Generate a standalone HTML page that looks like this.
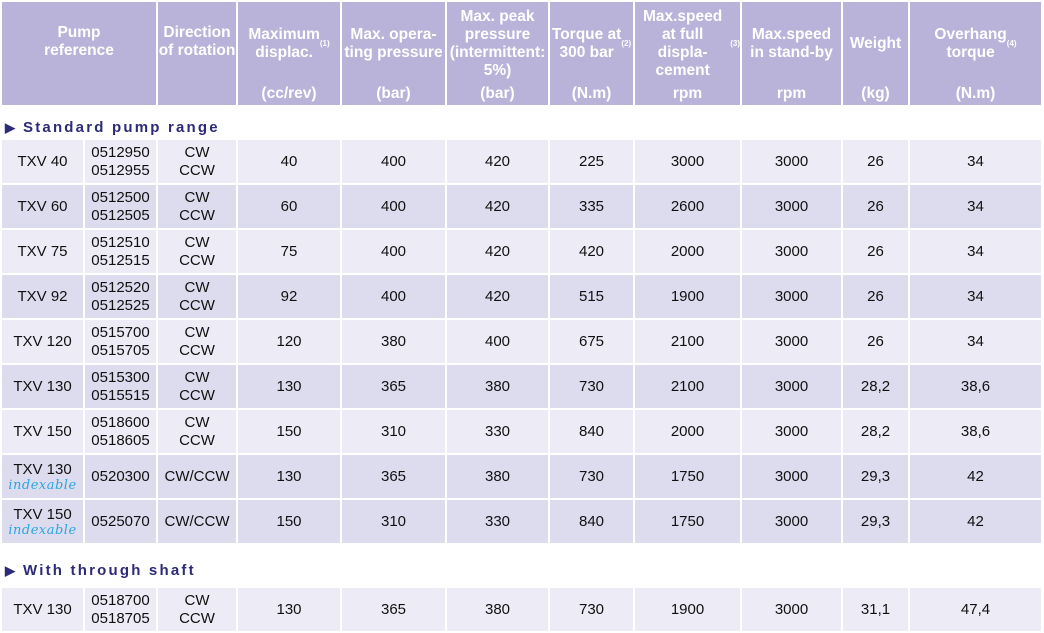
<!DOCTYPE html>
<html><head><meta charset="utf-8">
<style>
body{margin:0;width:1044px;height:633px;background:#fff;position:relative;overflow:hidden;font-family:"Liberation Sans Narrow","Liberation Sans",sans-serif;}
table{position:absolute;left:0;border-collapse:separate;border-spacing:2px;table-layout:fixed;}
td{padding:0;text-align:center;vertical-align:middle;font-size:15px;color:#111;line-height:18px;}
.hd td{background:#b9b3d9;color:#fff;font-weight:bold;height:103px;position:relative;font-size:15.5px;line-height:18px;}
.hd .t{position:absolute;left:0;right:0;top:0;height:84px;display:flex;align-items:center;justify-content:center;}
.hd .u{position:absolute;left:0;right:0;bottom:2px;}
sup{font-size:8px;vertical-align:top;line-height:10px}
tr.l td{background:#ecebf6;}
tr.d td{background:#dddbee;}
.body td{height:43px;}
.body tr.ix td{height:43px;}
.ix2 td{height:43px}
.idx{display:block;font-family:"DejaVu Serif",cursive;font-style:italic;color:#2aa6df;font-size:13px;line-height:14px;letter-spacing:0.5px}
.sec{position:absolute;left:5px;font-family:"Liberation Sans",sans-serif;font-weight:bold;font-size:15px;letter-spacing:2.2px;color:#2e2a7a;}
.sec span{font-size:13px;margin-right:8px;letter-spacing:0}
</style></head><body>
<table class="hd" style="top:0">
<colgroup><col style="width:154px"><col style="width:78px"><col style="width:102px"><col style="width:103px"><col style="width:101px"><col style="width:83px"><col style="width:105px"><col style="width:99px"><col style="width:65px"><col style="width:131px"></colgroup>
<tr>
<td><div class="t" style="height:100px;align-items:flex-start;padding-top:22px;box-sizing:border-box">Pump<br>reference</div></td>
<td><div class="t" style="height:100px;align-items:flex-start;padding-top:22px;box-sizing:border-box">Direction<br>of rotation</div></td>
<td><div class="t">Maximum<br>displac.<sup>(1)</sup></div><div class="u">(cc/rev)</div></td>
<td><div class="t">Max. opera-<br>ting pressure</div><div class="u">(bar)</div></td>
<td><div class="t">Max. peak<br>pressure<br>(intermittent:<br>5%)</div><div class="u">(bar)</div></td>
<td><div class="t">Torque at<br>300 bar<sup>(2)</sup></div><div class="u">(N.m)</div></td>
<td><div class="t">Max.speed<br>at full displa-<br>cement<sup>(3)</sup></div><div class="u">rpm</div></td>
<td><div class="t">Max.speed<br>in stand-by</div><div class="u">rpm</div></td>
<td><div class="t">Weight</div><div class="u">(kg)</div></td>
<td><div class="t">Overhang<br>torque<sup>(4)</sup></div><div class="u">(N.m)</div></td>
</tr></table>

<div class="sec" style="top:119px"><span>&#9654;</span>Standard pump range</div>

<table class="body" style="top:138px">
<colgroup><col style="width:81px"><col style="width:71px"><col style="width:78px"><col style="width:102px"><col style="width:103px"><col style="width:101px"><col style="width:83px"><col style="width:105px"><col style="width:99px"><col style="width:65px"><col style="width:131px"></colgroup>
<tr class="l"><td>TXV 40</td><td>0512950<br>0512955</td><td>CW<br>CCW</td><td>40</td><td>400</td><td>420</td><td>225</td><td>3000</td><td>3000</td><td>26</td><td>34</td></tr>
<tr class="d"><td>TXV 60</td><td>0512500<br>0512505</td><td>CW<br>CCW</td><td>60</td><td>400</td><td>420</td><td>335</td><td>2600</td><td>3000</td><td>26</td><td>34</td></tr>
<tr class="l"><td>TXV 75</td><td>0512510<br>0512515</td><td>CW<br>CCW</td><td>75</td><td>400</td><td>420</td><td>420</td><td>2000</td><td>3000</td><td>26</td><td>34</td></tr>
<tr class="d"><td>TXV 92</td><td>0512520<br>0512525</td><td>CW<br>CCW</td><td>92</td><td>400</td><td>420</td><td>515</td><td>1900</td><td>3000</td><td>26</td><td>34</td></tr>
<tr class="l"><td>TXV 120</td><td>0515700<br>0515705</td><td>CW<br>CCW</td><td>120</td><td>380</td><td>400</td><td>675</td><td>2100</td><td>3000</td><td>26</td><td>34</td></tr>
<tr class="d"><td>TXV 130</td><td>0515300<br>0515515</td><td>CW<br>CCW</td><td>130</td><td>365</td><td>380</td><td>730</td><td>2100</td><td>3000</td><td>28,2</td><td>38,6</td></tr>
<tr class="l"><td>TXV 150</td><td>0518600<br>0518605</td><td>CW<br>CCW</td><td>150</td><td>310</td><td>330</td><td>840</td><td>2000</td><td>3000</td><td>28,2</td><td>38,6</td></tr>
<tr class="d ix"><td>TXV 130<span class="idx">indexable</span></td><td>0520300</td><td>CW/CCW</td><td>130</td><td>365</td><td>380</td><td>730</td><td>1750</td><td>3000</td><td>29,3</td><td>42</td></tr>
<tr class="d ix"><td>TXV 150<span class="idx">indexable</span></td><td>0525070</td><td>CW/CCW</td><td>150</td><td>310</td><td>330</td><td>840</td><td>1750</td><td>3000</td><td>29,3</td><td>42</td></tr>
</table>

<div class="sec" style="top:562px"><span>&#9654;</span>With through shaft</div>

<table class="body" style="top:586px">
<colgroup><col style="width:81px"><col style="width:71px"><col style="width:78px"><col style="width:102px"><col style="width:103px"><col style="width:101px"><col style="width:83px"><col style="width:105px"><col style="width:99px"><col style="width:65px"><col style="width:131px"></colgroup>
<tr class="l"><td>TXV 130</td><td>0518700<br>0518705</td><td>CW<br>CCW</td><td>130</td><td>365</td><td>380</td><td>730</td><td>1900</td><td>3000</td><td>31,1</td><td>47,4</td></tr>
</table>
</body></html>
